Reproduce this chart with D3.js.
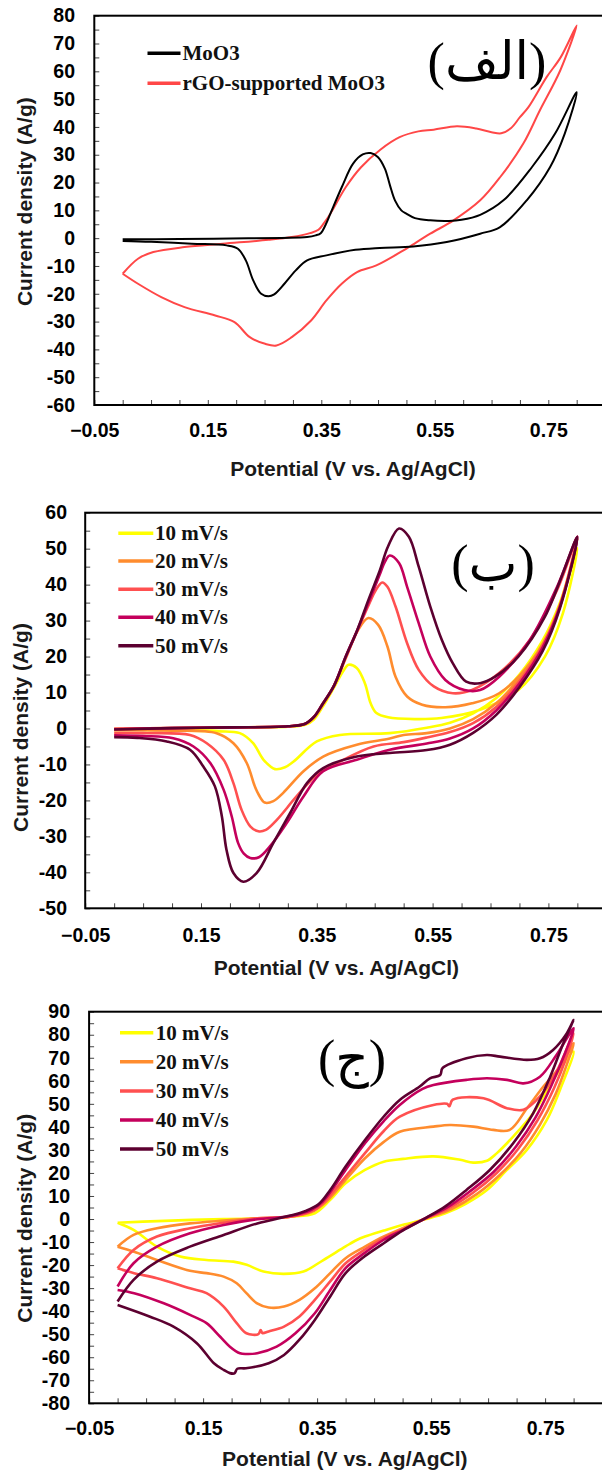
<!DOCTYPE html>
<html>
<head>
<meta charset="utf-8">
<script src="https://cdn.jsdelivr.net/npm/d3@7"></script>
<style>
  body { margin: 0; background: #fff; }
  svg { display: block; }
  .tick text { font-family: "Liberation Sans", Arial, sans-serif; font-weight: bold; font-size: 19.5px; fill: #000; }
  .tick line { stroke: #444; }
  .title { font-family: "Liberation Sans", Arial, sans-serif; font-weight: bold; font-size: 21px; fill: #1a1a1a; }
  .legend { font-family: "Liberation Serif", "Times New Roman", serif; font-weight: bold; font-size: 21px; fill: #111; }
  .tag { font-family: "Liberation Serif", "DejaVu Sans", serif; font-size: 52px; fill: #000; }
</style>
</head>
<body>
<svg id="chart" width="602" height="1472"></svg>
<script>
// ---- data: [potential V, current density A/g], forward sweep then back ----

// panel (a)
const moo3Loop = [
  [0.0,-0.4],[0.1,-0.3],[0.19,-0.1],[0.28,0.1],[0.325,0.4],[0.34,1.0],[0.349,1.8],[0.358,5],[0.366,8.8],
  [0.386,18.3],[0.406,26.8],[0.423,30.1],[0.437,30.6],[0.45,29.1],[0.462,25],[0.471,19],[0.48,13.5],
  [0.491,10],[0.5,8.8],[0.515,7.2],[0.542,6.4],[0.575,6.2],[0.597,6.6],[0.63,8.4],[0.671,13.6],
  [0.721,25.5],[0.762,37.6],[0.8,52.5],
  [0.779,37.6],[0.753,25.5],[0.712,13.6],[0.665,4.0],[0.63,1.6],[0.571,-1.4],[0.512,-3.0],[0.453,-3.5],
  [0.41,-4.2],[0.359,-6.2],[0.325,-8],[0.305,-11.6],[0.285,-16.4],[0.267,-20.2],[0.257,-20.9],[0.244,-20],
  [0.23,-15.2],[0.217,-8],[0.203,-3.8],[0.183,-2.6],[0.122,-2.0],[0.05,-1.3],[0.0,-1.0]
];
const rgoLoop = [
  [0.0,-12.8],[0.027,-7.4],[0.054,-5.0],[0.109,-3.2],[0.176,-2.0],[0.257,-0.6],[0.298,0.4],[0.33,1.8],
  [0.345,3.0],[0.355,5.5],[0.366,8.8],[0.393,18.3],[0.42,25.5],[0.454,31.8],[0.488,36.3],[0.521,38.4],
  [0.548,39],[0.589,40.2],[0.623,39.4],[0.65,38.1],[0.667,37.7],[0.684,39.5],[0.7,43.5],[0.715,47.1],
  [0.747,57.9],[0.772,65.1],[0.8,76.5],
  [0.771,60.3],[0.735,45.9],[0.706,34],[0.665,21.9],[0.63,13.6],[0.583,6.4],[0.542,1.6],[0.506,-3],
  [0.494,-4.5],[0.447,-9.8],[0.413,-12.2],[0.386,-16.4],[0.359,-22.4],[0.332,-29.6],[0.298,-35.6],
  [0.271,-38.6],[0.251,-38],[0.224,-35.6],[0.197,-30.2],[0.163,-27.8],[0.109,-24.8],[0.068,-21.2],
  [0.027,-16.4],[0.0,-12.8]
];

// panel (b): MoO3 at 10..50 mV/s
const b10 = [
  [0,-0.3],[0.1,-0.1],[0.2,0.2],[0.3,0.5],[0.33,1.0],[0.345,2.5],[0.36,6],[0.38,11.5],[0.395,15.8],
  [0.405,17.7],[0.419,16.8],[0.433,12.6],[0.443,7],[0.453,4.3],[0.473,3.1],[0.519,2.6],[0.565,2.9],
  [0.632,5.2],[0.698,10.7],[0.744,20],[0.775,32],[0.8,50.1],
  [0.77,35],[0.74,24.5],[0.7,15],[0.66,8.5],[0.62,4.2],[0.58,1.6],[0.54,0.2],[0.476,-1.3],[0.39,-1.8],
  [0.35,-3.6],[0.31,-9.2],[0.295,-10.8],[0.278,-11.3],[0.258,-8.7],[0.24,-4.1],[0.217,-1.3],
  [0.18,-0.8],[0.1,-0.5],[0,-0.4]
];
const b20 = [
  [0,-0.1],[0.1,0.1],[0.2,0.3],[0.3,0.6],[0.33,1.2],[0.345,3],[0.36,6.5],[0.38,12],[0.4,19.5],
  [0.42,27],[0.439,30.7],[0.456,28.8],[0.472,22.8],[0.486,14.4],[0.506,8.9],[0.532,6.6],[0.572,5.9],
  [0.618,7],[0.665,9.8],[0.718,18.1],[0.765,32],[0.8,53],
  [0.77,34.5],[0.74,23.5],[0.7,14],[0.66,7],[0.62,2.6],[0.58,0],[0.54,-1.3],[0.5,-1.8],[0.476,-2.8],
  [0.419,-4.5],[0.361,-7.8],[0.327,-11.9],[0.292,-17.9],[0.275,-20.2],[0.26,-20.6],[0.25,-18.5],
  [0.243,-16.1],[0.229,-9.6],[0.206,-4.1],[0.177,-1.3],[0.1,-0.6],[0,-0.5]
];
const b30 = [
  [0,-0.1],[0.1,0.1],[0.2,0.3],[0.3,0.6],[0.33,1.3],[0.345,3.2],[0.36,6.8],[0.38,12],[0.4,19.8],
  [0.42,27.2],[0.44,34.5],[0.452,38.5],[0.463,40.6],[0.472,39.4],[0.486,33.9],[0.506,23.7],[0.526,16.3],
  [0.552,11.7],[0.585,9.8],[0.618,10.7],[0.665,15.4],[0.718,24.6],[0.765,38.5],[0.8,53.3],
  [0.77,34],[0.74,23],[0.7,13.2],[0.66,6],[0.62,1.5],[0.58,-1],[0.54,-2.5],[0.5,-3.8],[0.448,-5],
  [0.39,-9.2],[0.35,-12.9],[0.315,-18.9],[0.281,-25.4],[0.262,-28.2],[0.249,-28.6],[0.235,-27.2],
  [0.22,-22.6],[0.206,-15.2],[0.189,-8.7],[0.16,-4.1],[0.131,-1.8],[0.05,-1.3],[0,-1.3]
];
const b40 = [
  [0,-0.2],[0.1,0.1],[0.2,0.3],[0.3,0.6],[0.33,1.3],[0.345,3.2],[0.36,6.8],[0.38,12],[0.4,20],
  [0.42,27.4],[0.44,35.3],[0.458,42.5],[0.468,46.5],[0.476,48.1],[0.492,46],[0.506,39.4],[0.526,29.3],
  [0.546,20],[0.572,13.5],[0.605,10.7],[0.632,10.7],[0.665,14.4],[0.718,24.6],[0.765,39.4],[0.8,53.3],
  [0.77,34],[0.74,22.5],[0.7,12.5],[0.66,5],[0.62,0],[0.58,-2.8],[0.54,-4.2],[0.476,-5.9],[0.419,-8.7],
  [0.361,-11.9],[0.327,-18.9],[0.298,-26.3],[0.269,-32.8],[0.25,-35.8],[0.235,-36],[0.224,-34.8],
  [0.214,-31.8],[0.203,-24.4],[0.189,-17],[0.166,-9.6],[0.137,-5],[0.102,-2.7],[0.05,-2.1],[0,-1.9]
];
const b50 = [
  [0,-0.3],[0.1,0.1],[0.2,0.3],[0.3,0.6],[0.33,1.3],[0.345,3.2],[0.36,6.8],[0.38,12],[0.4,20],
  [0.42,27.4],[0.439,35.7],[0.459,44],[0.473,50.6],[0.492,55.6],[0.509,53.3],[0.526,45],[0.546,33.9],
  [0.566,24.6],[0.585,18.1],[0.608,13],[0.632,12.6],[0.658,14.4],[0.698,20],[0.744,31.1],[0.8,53.3],
  [0.77,33.5],[0.74,21.5],[0.7,11.5],[0.66,3.8],[0.62,-1.2],[0.58,-4.5],[0.54,-6],[0.476,-6.8],
  [0.419,-7.8],[0.361,-11],[0.333,-15.2],[0.304,-23.5],[0.275,-31.8],[0.246,-40.2],[0.223,-42.6],
  [0.206,-40.2],[0.194,-33.7],[0.186,-24.4],[0.174,-16.1],[0.154,-10.6],[0.131,-5.9],[0.091,-3.6],
  [0.04,-2.6],[0,-2.4]
];

// panel (c): rGO-supported MoO3 at 10..50 mV/s
const c10 = [
  [0,-1.6],[0.07,-0.9],[0.186,0],[0.266,0.3],[0.303,1.0],[0.346,2.5],[0.373,8.3],[0.4,15.5],[0.434,21.3],
  [0.467,24.9],[0.501,26.1],[0.554,27.2],[0.601,25.7],[0.624,24.5],[0.648,25.3],[0.665,28.5],[0.694,35.8],
  [0.729,45.9],[0.764,60.4],[0.8,72.7],
  [0.776,56],[0.753,43],[0.718,30],[0.683,21.3],[0.648,12.6],[0.61,6.5],[0.575,2.5],[0.541,0],[0.501,-2.5],
  [0.467,-5],[0.434,-7.6],[0.4195,-9.1],[0.4,-11.9],[0.361,-17.8],[0.326,-22.8],[0.291,-23.8],
  [0.256,-22.8],[0.2265,-19.9],[0.203,-18.5],[0.156,-17.8],[0.11,-16.3],[0.069,-12],[0.028,-4.7],[0,-1.6]
];
const c20 = [
  [0,-12],[0.028,-6.9],[0.069,-4],[0.127,-1.9],[0.186,-0.7],[0.245,0.3],[0.303,1.0],[0.34,3],[0.366,7.5],
  [0.4,17],[0.434,26.4],[0.467,33.5],[0.495,37.9],[0.554,40.1],[0.583,40.8],[0.624,40.1],[0.659,38.7],
  [0.688,38.7],[0.718,48],[0.747,57.5],[0.776,66.1],[0.8,76.3],
  [0.788,67],[0.768,54],[0.741,41],[0.708,29],[0.67,19],[0.63,10.8],[0.585,4.2],[0.541,0.2],[0.5,-4],
  [0.467,-7.6],[0.434,-12],[0.4,-17],[0.373,-23.5],[0.346,-30.1],[0.319,-35.1],[0.292,-38],[0.265,-38.4],
  [0.244,-36.5],[0.226,-32.2],[0.209,-27.9],[0.186,-25],[0.156,-23.5],[0.127,-22.5],[0.069,-17.8],
  [0.029,-14.2],[0,-12]
];
const c30 = [
  [0,-21.4],[0.028,-13.4],[0.069,-7.6],[0.127,-4],[0.186,-1.6],[0.245,0.3],[0.303,1.0],[0.345,4],
  [0.36,6.8],[0.4,18.4],[0.434,28.6],[0.467,38.2],[0.495,44.4],[0.554,49.5],[0.578,50],[0.582,49],
  [0.588,51.8],[0.642,52.4],[0.683,48.1],[0.712,47.4],[0.741,53.2],[0.77,64],[0.8,80.6],
  [0.787,70],[0.766,57],[0.737,43],[0.703,30.5],[0.665,20],[0.624,11.5],[0.582,4.8],[0.541,0.3],
  [0.5,-4.5],[0.467,-8.3],[0.433,-13.4],[0.4,-19.2],[0.373,-27.1],[0.346,-35.1],[0.319,-42.3],
  [0.292,-46.7],[0.265,-48.8],[0.254,-49.5],[0.251,-48.2],[0.247,-50],[0.226,-49.6],[0.209,-45.2],
  [0.186,-38],[0.156,-32.2],[0.127,-30.1],[0.069,-25.7],[0.029,-23.5],[0,-21.4]
];
const c40 = [
  [0,-29.3],[0.028,-19.2],[0.069,-12],[0.127,-6.2],[0.186,-2.6],[0.245,-0.1],[0.303,1.3],[0.34,4],
  [0.36,7.6],[0.4,21.3],[0.434,32.9],[0.467,42.5],[0.495,49.5],[0.535,56.5],[0.554,58.2],[0.612,60.4],
  [0.648,61.1],[0.683,60.4],[0.712,58.9],[0.741,61.8],[0.77,71.2],[0.8,82.8],
  [0.785,72],[0.762,58.5],[0.733,44],[0.699,31.5],[0.66,20.5],[0.618,12],[0.578,5],[0.541,0.5],
  [0.5,-4.8],[0.467,-9],[0.433,-14.8],[0.4,-21.3],[0.373,-30.8],[0.346,-40.9],[0.312,-49.6],
  [0.279,-55.4],[0.245,-58.3],[0.2265,-58.6],[0.2147,-58.3],[0.197,-55.4],[0.18,-51.1],[0.156,-45.2],
  [0.127,-41.6],[0.081,-36.6],[0.029,-32.2],[0,-30.8]
];
const c50 = [
  [0,-35.8],[0.028,-26.4],[0.069,-18.5],[0.127,-12],[0.186,-6.9],[0.245,-1.9],[0.303,1.5],[0.33,3.5],
  [0.353,6.5],[0.373,12.6],[0.4,22.8],[0.434,34.3],[0.467,44.5],[0.495,51.7],[0.53,57.5],[0.548,61.1],
  [0.566,62.5],[0.57,65.5],[0.612,69.8],[0.648,71.2],[0.671,70.5],[0.718,69.1],[0.741,69.8],[0.764,73.4],
  [0.788,80.6],[0.8,86.4],
  [0.782,76.3],[0.759,61.8],[0.729,45.9],[0.694,32.9],[0.653,21.3],[0.612,12.6],[0.575,5.5],[0.541,0.5],
  [0.5,-5],[0.467,-10.5],[0.433,-16.3],[0.4,-23.5],[0.373,-33.6],[0.346,-43.8],[0.319,-52.4],[0.292,-59],
  [0.265,-62.6],[0.225,-64.8],[0.21,-65],[0.205,-67],[0.197,-66.9],[0.186,-65.5],[0.169,-62.6],
  [0.139,-53.9],[0.098,-46.7],[0.057,-42.4],[0,-37.3]
];

const seriesA = [rgoLoop, moo3Loop];
const namesA = ["MoO3", "rGO-supported MoO3"];
const seriesB = [b10, b20, b30, b40, b50];
const seriesC = [c10, c20, c30, c40, c50];
const rateNames = ["10 mV/s", "20 mV/s", "30 mV/s", "40 mV/s", "50 mV/s"];
const tags = ["(الف)", "(ب)", "(ج)"];
const xTickLabels = [-0.05, 0.15, 0.35, 0.55, 0.75];
const xTitle = "Potential (V vs. Ag/AgCl)";
const yTitle = "Current density (A/g)";

// ---- styles and layout ----
const rateColors = ["#ffff00", "#ff8c2e", "#ff5050", "#c4005c", "#5c0030"];
const colorsA = ["#ff4747", "#000000"];   // red drawn first, black on top
const legendColorsA = ["#000000", "#ff4747"];

const panels = [
  { series: seriesA, colors: colorsA, width: 2, yDomain: [-60, 80],
    left: 94.3, top: 15.7, bottom: 405, pxPerV: 567.5, labelEnd: 75, xLabelY: 436.5,
    xTitle: [353, 475.5], yTitle: [25, 201.7], tag: [487, 79],
    legend: { names: namesA, colors: legendColorsA, x1: 147.5, x2: 180.5, tx: 182.5, ys: [53.3, 83.3] } },
  { series: seriesB, colors: rateColors, width: 2.6, yDomain: [-50, 60],
    left: 85.2, top: 512.7, bottom: 908.3, pxPerV: 579, labelEnd: 67, xLabelY: 941.7,
    xTitle: [336.4, 974.5], yTitle: [20.7, 727.5], tag: [493, 581],
    legend: { names: rateNames, colors: rateColors, x1: 118.3, x2: 153.3, tx: 155, ys: [533.3, 561, 589.3, 617.3, 645.7] } },
  { series: seriesC, colors: rateColors, width: 2.6, yDomain: [-80, 90],
    left: 89.1, top: 1011.7, bottom: 1403.3, pxPerV: 570, labelEnd: 70, xLabelY: 1435,
    xTitle: [344.8, 1466], yTitle: [25, 1218.3], tag: [352, 1076],
    legend: { names: rateNames, colors: rateColors, x1: 120, x2: 153.3, tx: 155.7, ys: [1032.7, 1061.7, 1091, 1120, 1149] } }
];

const svg = d3.select("#chart");

panels.forEach((p, k) => {
  const x = d3.scaleLinear().domain([-0.05, 0.85]).range([p.left, p.left + 0.9 * p.pxPerV]);
  const y = d3.scaleLinear().domain(p.yDomain).range([p.bottom, p.top]);
  const g = svg.append("g");

  // y axis: ticks every 5, labels every 10
  const yTicks = d3.range(p.yDomain[0], p.yDomain[1] + 1, 5);
  g.append("g")
    .attr("transform", `translate(${p.left},0)`)
    .call(d3.axisLeft(y).tickValues(yTicks).tickSizeInner(-5).tickSizeOuter(0)
      .tickPadding(p.left - p.labelEnd)
      .tickFormat(d => d % 10 === 0 ? d : ""))
    .call(a => a.select(".domain").remove());

  // x axis: ticks every 0.05, labels every 0.2
  const xTicks = d3.range(0, 18).map(i => +(-0.05 + i * 0.05).toFixed(2));
  g.append("g")
    .attr("transform", `translate(0,${p.bottom})`)
    .call(d3.axisBottom(x).tickValues(xTicks).tickSizeInner(-5).tickSizeOuter(0)
      .tickFormat(d => xTickLabels.includes(d) ? d3.format(".2f")(d) : ""))
    .call(a => a.select(".domain").remove())
    .call(a => a.selectAll("text").attr("y", p.xLabelY - p.bottom).attr("dy", 0));

  // frame (right side runs past the page edge)
  g.append("rect")
    .attr("x", p.left).attr("y", p.top)
    .attr("width", 0.9 * p.pxPerV + 20).attr("height", p.bottom - p.top)
    .attr("fill", "none").attr("stroke", "#000").attr("stroke-width", 2);

  // curves
  const line = d3.line()
    .x(d => x(d[0]))
    .y(d => y(d[1]))
    .curve(d3.curveCatmullRom.alpha(0.5));

  g.append("g").selectAll("path")
    .data(p.series)
    .join("path")
    .attr("d", line)
    .attr("fill", "none")
    .attr("stroke", (d, i) => p.colors[i])
    .attr("stroke-width", p.width)
    .attr("stroke-linejoin", "round");

  // legend
  const lg = g.append("g");
  p.legend.names.forEach((name, i) => {
    lg.append("line")
      .attr("x1", p.legend.x1).attr("x2", p.legend.x2)
      .attr("y1", p.legend.ys[i]).attr("y2", p.legend.ys[i])
      .attr("stroke", p.legend.colors[i]).attr("stroke-width", 3.5);
    lg.append("text")
      .attr("class", "legend")
      .attr("x", p.legend.tx).attr("y", p.legend.ys[i] + 7)
      .text(name);
  });

  // titles
  g.append("text").attr("class", "title")
    .attr("x", p.xTitle[0]).attr("y", p.xTitle[1])
    .attr("text-anchor", "middle")
    .text(xTitle);
  g.append("text").attr("class", "title")
    .attr("transform", `translate(${p.yTitle[0]},${p.yTitle[1]}) rotate(-90)`)
    .attr("text-anchor", "middle")
    .attr("dy", "0.35em")
    .text(yTitle);

  // panel tag
  g.append("text").attr("class", "tag")
    .attr("x", p.tag[0]).attr("y", p.tag[1])
    .attr("text-anchor", "middle")
    .text(tags[k]);
});
</script>
</body>
</html>
